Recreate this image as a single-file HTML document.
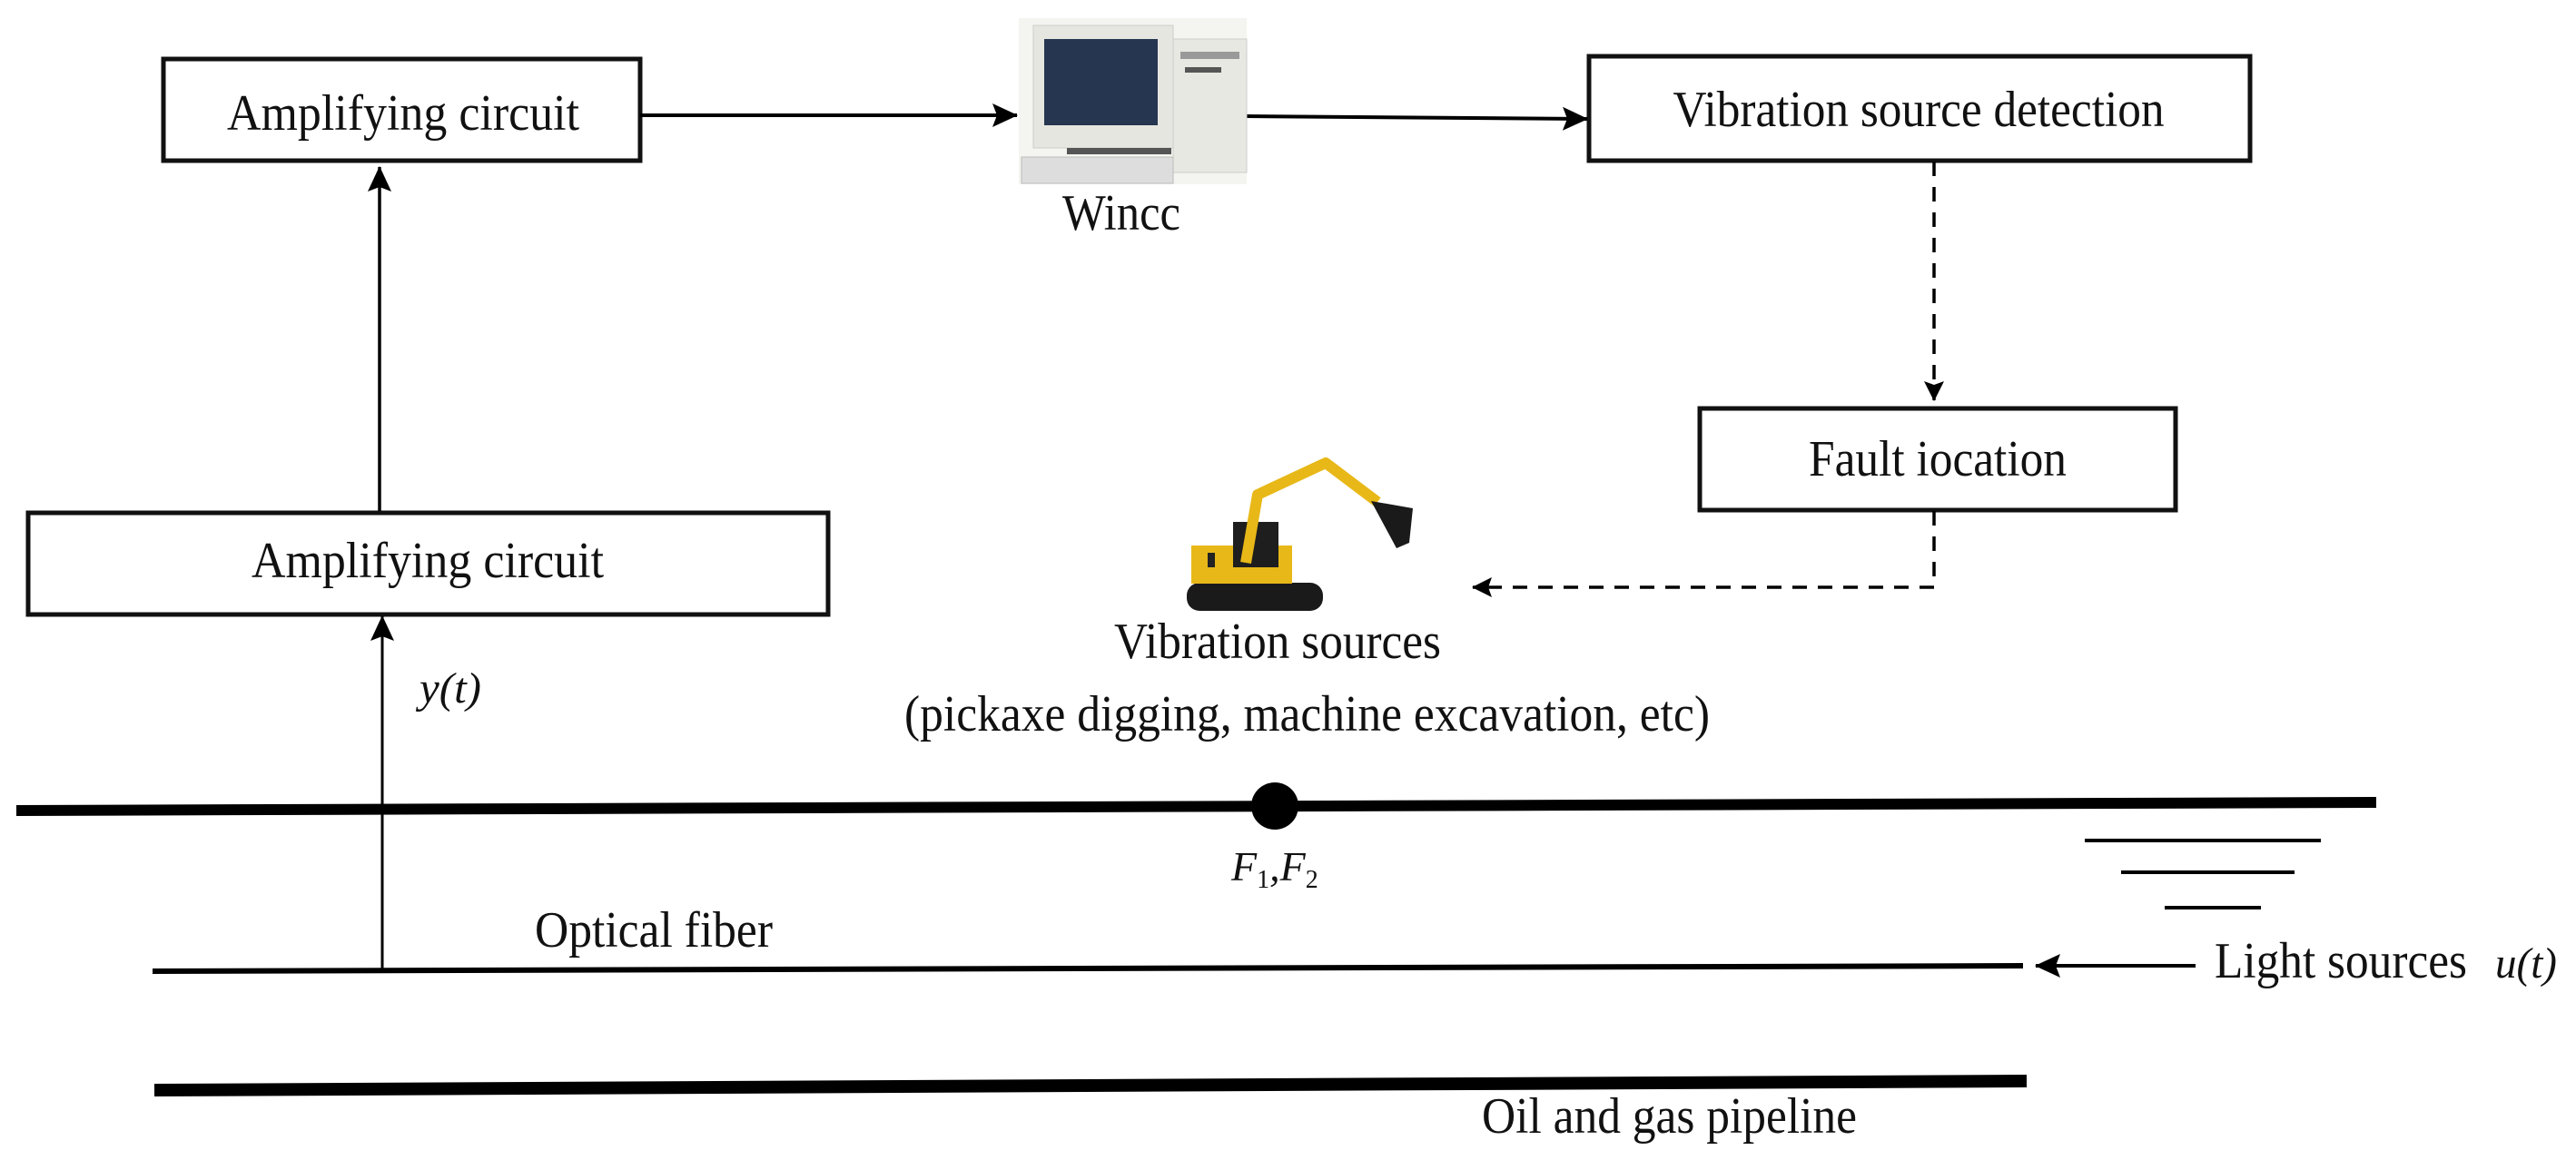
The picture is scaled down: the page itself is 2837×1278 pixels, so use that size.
<!DOCTYPE html>
<html><head><meta charset="utf-8"><style>html,body{margin:0;padding:0;background:#fff}svg{display:block}text{font-family:"Liberation Serif",serif;fill:#111}</style></head><body>
<svg width="2837" height="1278" viewBox="0 0 2837 1278" xmlns="http://www.w3.org/2000/svg">
<defs>
<marker id="ah" markerWidth="28" markerHeight="26" refX="27" refY="13" orient="auto" markerUnits="userSpaceOnUse" viewBox="0 0 28 26"><path d="M0,0 L28,13 L0,26 L5,13 z" fill="#000"/></marker>
<marker id="ah2" markerWidth="22" markerHeight="22" refX="21" refY="11" orient="auto" markerUnits="userSpaceOnUse" viewBox="0 0 22 22"><path d="M0,0 L22,11 L0,22 L4,11 z" fill="#000"/></marker>
</defs>
<rect width="2837" height="1278" fill="#fff"/>
<g fill="none" stroke="#111" stroke-width="5">
<rect x="180" y="65" width="525" height="112"/>
<rect x="1750" y="62" width="728" height="115"/>
<rect x="1872" y="450" width="524" height="112"/>
<rect x="31" y="565" width="881" height="112"/>
</g>
<text x="444" y="143" font-size="56" text-anchor="middle" textLength="388" lengthAdjust="spacingAndGlyphs">Amplifying circuit</text>
<text x="2113" y="139" font-size="56" text-anchor="middle" textLength="541" lengthAdjust="spacingAndGlyphs">Vibration source detection</text>
<text x="2134" y="524" font-size="56" text-anchor="middle" textLength="284" lengthAdjust="spacingAndGlyphs">Fault iocation</text>
<text x="471" y="636" font-size="56" text-anchor="middle" textLength="388" lengthAdjust="spacingAndGlyphs">Amplifying circuit</text>
<text x="1235" y="253" font-size="56" text-anchor="middle" textLength="130" lengthAdjust="spacingAndGlyphs">Wincc</text>
<text x="1227" y="725" font-size="56" textLength="360" lengthAdjust="spacingAndGlyphs">Vibration sources</text>
<text x="996" y="805" font-size="56" textLength="887" lengthAdjust="spacingAndGlyphs">(pickaxe digging, machine excavation, etc)</text>
<text x="589" y="1043" font-size="56" textLength="262" lengthAdjust="spacingAndGlyphs">Optical fiber</text>
<text x="2439" y="1077" font-size="56" textLength="278" lengthAdjust="spacingAndGlyphs">Light sources</text>
<text x="1632" y="1248" font-size="56" textLength="413" lengthAdjust="spacingAndGlyphs">Oil and gas pipeline</text>
<text x="462" y="774" font-size="48" font-style="italic" textLength="68" lengthAdjust="spacingAndGlyphs">y(t)</text>
<text x="2748" y="1077" font-size="48" font-style="italic" textLength="68" lengthAdjust="spacingAndGlyphs">u(t)</text>
<text x="1356" y="970" font-size="46" font-style="italic">F<tspan font-size="28" dy="8" font-style="normal">1</tspan><tspan dy="-8">,F</tspan><tspan font-size="28" dy="8" font-style="normal">2</tspan></text>
<g stroke="#000" stroke-width="4" fill="none">
<line x1="705" y1="127" x2="1120" y2="127" marker-end="url(#ah)"/>
<line x1="1372" y1="128" x2="1748" y2="131" marker-end="url(#ah)"/>
<line x1="418" y1="563" x2="418" y2="184" stroke-width="3.5" marker-end="url(#ah)"/>
<line x1="421" y1="1068" x2="421" y2="679" stroke-width="3" marker-end="url(#ah)"/>
<line x1="2418" y1="1064" x2="2242" y2="1064" marker-end="url(#ah)"/>
<g stroke-dasharray="16,12" stroke-width="3.5">
<line x1="2130" y1="178" x2="2130" y2="441" marker-end="url(#ah2)"/>
<polyline points="2130,563 2130,647 1622,647" marker-end="url(#ah2)"/>
</g>
</g>
<g stroke="#000" fill="none">
<line x1="18" y1="893" x2="2617" y2="884" stroke-width="12"/>
<line x1="168" y1="1070" x2="2228" y2="1064" stroke-width="6"/>
<line x1="170" y1="1201" x2="2232" y2="1191" stroke-width="14"/>
<line x1="2296" y1="926" x2="2556" y2="926" stroke-width="4"/>
<line x1="2336" y1="961" x2="2527" y2="961" stroke-width="4"/>
<line x1="2384" y1="1000" x2="2490" y2="1000" stroke-width="4"/>
</g>
<circle cx="1404" cy="888" r="26" fill="#000"/>
<g>
<rect x="1122" y="20" width="251" height="183" fill="#f4f4f0"/>
<rect x="1138" y="28" width="154" height="135" fill="#e6e6e0" stroke="#ccc"/>
<rect x="1150" y="43" width="125" height="95" fill="#263650"/>
<rect x="1292" y="43" width="81" height="147" fill="#e8e8e2" stroke="#ccc"/>
<rect x="1300" y="57" width="65" height="8" fill="#999"/>
<rect x="1305" y="74" width="40" height="6" fill="#555"/>
<rect x="1175" y="163" width="115" height="7" fill="#555"/>
<rect x="1125" y="173" width="167" height="29" fill="#ddd" stroke="#bbb"/>
</g>
<g>
<rect x="1307" y="642" width="150" height="31" rx="14" fill="#1a1a1a"/>
<rect x="1312" y="601" width="111" height="42" fill="#e8b818"/>
<rect x="1358" y="575" width="50" height="50" fill="#1e1e1e"/>
<rect x="1330" y="609" width="8" height="16" fill="#222"/>
<polyline points="1372,620 1385,545 1460,510 1517,553" fill="none" stroke="#e8b818" stroke-width="12" stroke-linejoin="round"/>
<path d="M1510,552 L1556,560 L1552,598 L1538,604 Z" fill="#1a1a1a"/>
</g>
</svg>
</body></html>
